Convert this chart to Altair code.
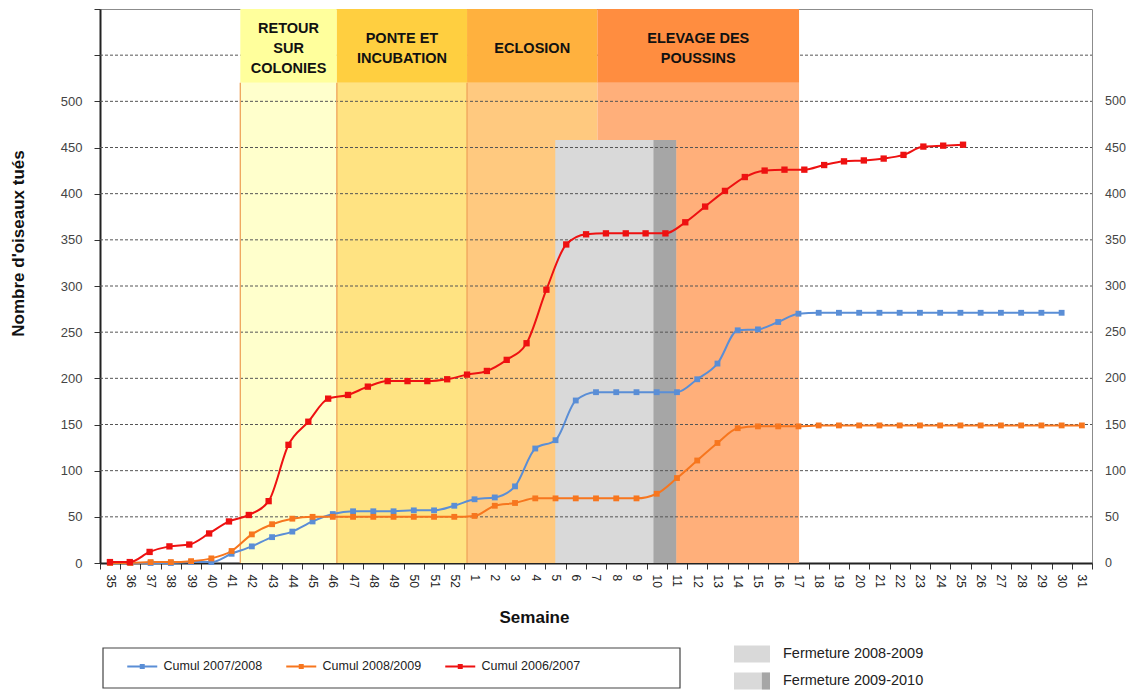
import altair as alt
import pandas as pd

# ---------------- data ----------------
weeks = ["35", "36", "37", "38", "39", "40", "41", "42", "43", "44", "45", "46",
         "47", "48", "49", "50", "51", "52", "1", "2", "3", "4", "5", "6", "7",
         "8", "9", "10", "11", "12", "13", "14", "15", "16", "17", "18", "19",
         "20", "21", "22", "23", "24", "25", "26", "27", "28", "29", "30", "31"]

series_names = ["Cumul 2007/2008", "Cumul 2008/2009", "Cumul 2006/2007"]
series_colors = ["#5A8ED6", "#F7761E", "#EE1111"]

cumul_2007_2008 = [0, 0, 0, 0, 1, 1, 10, 18, 28, 34, 45, 53, 56, 56, 56, 57, 57, 62,
                   69, 71, 83, 124, 133, 176, 185, 185, 185, 185, 185, 199, 216, 252,
                   253, 261, 270, 271, 271, 271, 271, 271, 271, 271, 271, 271, 271,
                   271, 271, 271]
cumul_2008_2009 = [0, 0, 1, 1, 2, 5, 13, 31, 42, 48, 50, 50, 50, 50, 50, 50, 50, 50,
                   51, 62, 65, 70, 70, 70, 70, 70, 70, 75, 92, 111, 130, 146, 148,
                   148, 148, 149, 149, 149, 149, 149, 149, 149, 149, 149, 149, 149,
                   149, 149, 149]
# plotted on the secondary category axis, which has 50 slots
cumul_2006_2007 = [1, 1, 12, 18, 20, 32, 45, 52, 67, 128, 153, 178, 182, 191, 197,
                   197, 197, 199, 204, 208, 220, 238, 296, 345, 356, 357, 357, 357,
                   357, 369, 386, 403, 418, 425, 426, 426, 431, 435, 436, 438, 442,
                   451, 452, 453]
red_slots = 50

phase_names = ["RETOUR\nSUR\nCOLONIES", "PONTE ET\nINCUBATION", "ECLOSION",
               "ELEVAGE DES\nPOUSSINS"]
phase_start = [6.43, 11.2, 17.63, 24.07]     # in week-index units
phase_end = [11.2, 17.63, 24.07, 34.03]
phase_body_colors = ["#FFFFCC", "#FFE382", "#FFC97F", "#FFAF7A"]
phase_head_colors = ["#FFFF9C", "#FFCF40", "#FFB13E", "#FF8D40"]
header_bottom = 520
header_top = 600
header_text_center = 557

closure_labels = ["Fermeture 2008-2009", "Fermeture 2009-2010"]
closure_start = [22.0, 22.0]
closure_end = [26.84, 27.96]
closure_colors = ["#D9D9D9", "#D9D9D9"]
closure_strip_color = "#A6A6A6"
closure_top = 458

y_ticks = [0, 50, 100, 150, 200, 250, 300, 350, 400, 450, 500, 550, 600]
y_labels = [0, 50, 100, 150, 200, 250, 300, 350, 400, 450, 500]
grid_values = [50, 100, 150, 200, 250, 300, 350, 400, 450, 500, 550]

# ---------------- tables ----------------
rows = []
for name, vals in zip(series_names[:2], [cumul_2007_2008, cumul_2008_2009]):
    for j, v in enumerate(vals):
        rows.append({"i": j, "value": v, "series": name})
df_main = pd.DataFrame(rows)
df_red = pd.DataFrame({"i": list(range(len(cumul_2006_2007))),
                       "value": cumul_2006_2007,
                       "series": series_names[2]})
phases = pd.DataFrame({"phase": phase_names, "start": phase_start, "end": phase_end})
closures = pd.DataFrame({"key": closure_labels, "start": closure_start,
                         "end": closure_end}).iloc[::-1]
strip = pd.DataFrame({"lab": [closure_labels[1]], "start": [closure_end[0]],
                      "end": [closure_end[1]]})
grid_df = pd.DataFrame({"v": grid_values})
rlab_df = pd.DataFrame({"v": y_labels})
one = pd.DataFrame({"a": [0]})

# ---------------- geometry / style ----------------
W, H = 992, 554
FONT = "Liberation Sans"
LINE_H = 20
half_line_units = (LINE_H / 2) * (y_ticks[-1] - y_ticks[0]) / H

xs = alt.Scale(domain=[-0.5, len(weeks) - 0.5], nice=False, zero=False)
ys = alt.Scale(domain=[y_ticks[0], y_ticks[-1]], nice=False, zero=False)

labels_js = "[" + ",".join("'%s'" % w for w in weeks) + "]"
x_tick_pos = [k - 0.5 for k in range(len(weeks) + 1)]

x_axis = alt.Axis(
    values=x_tick_pos, labelExpr=labels_js + "[datum.value + 0.5] || ''",
    labelAngle=90, labelOffset=10.1, labelOverlap=False, labelFlush=False,
    labelBound=False, labelPadding=5, labelFont=FONT, labelFontSize=12,
    labelColor="#222222", tickSize=6, tickColor="#333333", domainColor="#222222",
    domainWidth=2, grid=False, title="Semaine", titleFont=FONT,
    titleFontSize=17, titleFontWeight="bold", titleColor="#111111",
    titleX=434, titleY=54, titleBaseline="middle")
y_axis = alt.Axis(
    values=y_ticks, labelExpr="datum.value <= 500 ? datum.label : ''",
    tickSize=6, tickColor="#333333", labelPadding=12, labelFont=FONT,
    labelFontSize=13, labelColor="#444444", domainColor="#222222", domainWidth=2,
    grid=False, title="Nombre d'oiseaux tués", titleFont=FONT, titleFontSize=17,
    titleFontWeight="bold", titleColor="#111111", titleX=-82, titleY=234,
    titleBaseline="middle")

head_keys = [p + "|h" for p in phase_names]
CLOSURE_LEG_Y = 627
CLOSURE_LEG_STEP = 27
legend_common = dict(title=None, orient="none", direction="vertical", legendX=634,
                     padding=0, symbolSize=1296, symbolStrokeWidth=0, labelFont=FONT,
                     labelFontSize=14.5, labelColor="#222222", labelOffset=13,
                     rowPadding=CLOSURE_LEG_STEP - 36)
fill_enc = alt.Fill(
    "key:N",
    scale=alt.Scale(domain=phase_names + head_keys + closure_labels,
                    range=phase_body_colors + phase_head_colors + closure_colors),
    legend=alt.Legend(values=closure_labels, legendY=CLOSURE_LEG_Y,
                      symbolType="M-1,-0.47H1V0.47H-1Z", **legend_common),
)

color_enc = alt.Color(
    "series:N",
    scale=alt.Scale(domain=series_names, range=series_colors),
    legend=alt.Legend(
        title=None, orient="none", direction="horizontal",
        legendX=36, legendY=651, padding=0,
        symbolType="M-3,0H3M-0.3,-0.3H0.3V0.3H-0.3Z", symbolSize=100,
        symbolStrokeWidth=2, labelFont=FONT, labelFontSize=12.5,
        labelColor="#222222", labelOffset=15, columnPadding=19,
    ),
)

body = alt.Chart(phases).transform_calculate(key="datum.phase").mark_rect().encode(
    x=alt.X("start:Q", scale=xs, axis=x_axis), x2="end:Q",
    y=alt.Y(datum=0, scale=ys, axis=y_axis), y2=alt.Y2(datum=header_bottom),
    fill=fill_enc,
)

closure_rects = alt.Chart(closures).mark_rect().encode(
    x=alt.X("start:Q", scale=xs, axis=x_axis), x2="end:Q",
    y=alt.Y(datum=0, scale=ys, axis=y_axis), y2=alt.Y2(datum=closure_top),
    fill=fill_enc,
)

closure_dark = alt.Chart(strip).mark_rect(color=closure_strip_color).encode(
    x=alt.X("start:Q", scale=xs, axis=x_axis), x2="end:Q",
    y=alt.Y(datum=0, scale=ys, axis=y_axis), y2=alt.Y2(datum=closure_top),
    opacity=alt.Opacity("lab:O", scale=alt.Scale(domain=[closure_labels[1]], range=[1]),
                        legend=alt.Legend(legendY=CLOSURE_LEG_Y + CLOSURE_LEG_STEP,
                                          labelOpacity=0,
                                          symbolType="M0.55,-0.47H1V0.47H0.55Z",
                                          symbolFillColor=closure_strip_color,
                                          **legend_common)),
)

grid = alt.Chart(grid_df).mark_rule(color="#555555", strokeDash=[3, 2], strokeWidth=1).encode(
    y=alt.Y("v:Q", scale=ys, axis=y_axis), x=alt.value(0), x2=alt.value(W),
)

head = alt.Chart(phases).transform_calculate(key="datum.phase + '|h'").mark_rect().encode(
    x=alt.X("start:Q", scale=xs, axis=x_axis), x2="end:Q",
    y=alt.Y(datum=header_bottom, scale=ys, axis=y_axis), y2=alt.Y2(datum=header_top),
    fill=fill_enc,
)

edges = alt.Chart(phases.iloc[:3]).mark_rule(color="#EFA35A", strokeWidth=1.3).encode(
    x=alt.X("start:Q", scale=xs, axis=x_axis),
    y=alt.Y(datum=0, scale=ys, axis=y_axis), y2=alt.Y2(datum=header_bottom),
)

head_text = alt.Chart(phases).transform_calculate(
    mid="(datum.start + datum.end) / 2",
    ytxt="%f + (length(split(datum.phase, '\\n')) - 1) * %f" % (header_text_center,
                                                               half_line_units),
).mark_text(font=FONT, fontSize=14.5, fontWeight="bold", color="#111111",
            lineBreak="\n", lineHeight=LINE_H, baseline="middle", align="center").encode(
    x=alt.X("mid:Q", scale=xs, axis=x_axis),
    y=alt.Y("ytxt:Q", scale=ys, axis=y_axis),
    text="phase:N",
)

right_labels = alt.Chart(rlab_df).mark_text(
    font=FONT, fontSize=12.5, color="#444444", align="left", baseline="middle"
).encode(
    y=alt.Y("v:Q", scale=ys, axis=y_axis), x=alt.value(W + 13), text="v:Q",
)

frame = alt.Chart(one).mark_rect(fill="transparent", stroke="#444444", strokeWidth=1.2).encode(
    x=alt.value(3), x2=alt.value(580), y=alt.value(639), y2=alt.value(679),
)

main_lines = alt.Chart(df_main).mark_line(
    strokeWidth=2, interpolate="monotone",
    point=alt.OverlayMarkDef(shape="square", size=34, filled=True, opacity=1),
).encode(
    x=alt.X("i:Q", scale=xs, axis=x_axis),
    y=alt.Y("value:Q", scale=ys, axis=y_axis),
    color=color_enc,
)

red_line = alt.Chart(df_red).transform_calculate(
    xpos="(datum.i + 0.5) * %d / %d - 0.5" % (len(weeks), red_slots)
).mark_line(
    strokeWidth=2, interpolate="monotone",
    point=alt.OverlayMarkDef(shape="square", size=40, filled=True, opacity=1),
).encode(
    x=alt.X("xpos:Q", scale=xs, axis=x_axis),
    y=alt.Y("value:Q", scale=ys, axis=y_axis),
    color=color_enc,
)

chart = alt.layer(
    body, closure_rects, closure_dark, grid, head, edges, head_text, right_labels,
    frame, main_lines, red_line,
).properties(
    width=W, height=H,
    padding={"left": 92, "top": 1, "right": 34, "bottom": 128},
    autosize=alt.AutoSizeParams(type="none"),
).configure(font=FONT).configure_view(stroke="#8C8C8C", strokeWidth=1)

chart.save("out.html", embed_options={"renderer": "svg", "actions": False})
